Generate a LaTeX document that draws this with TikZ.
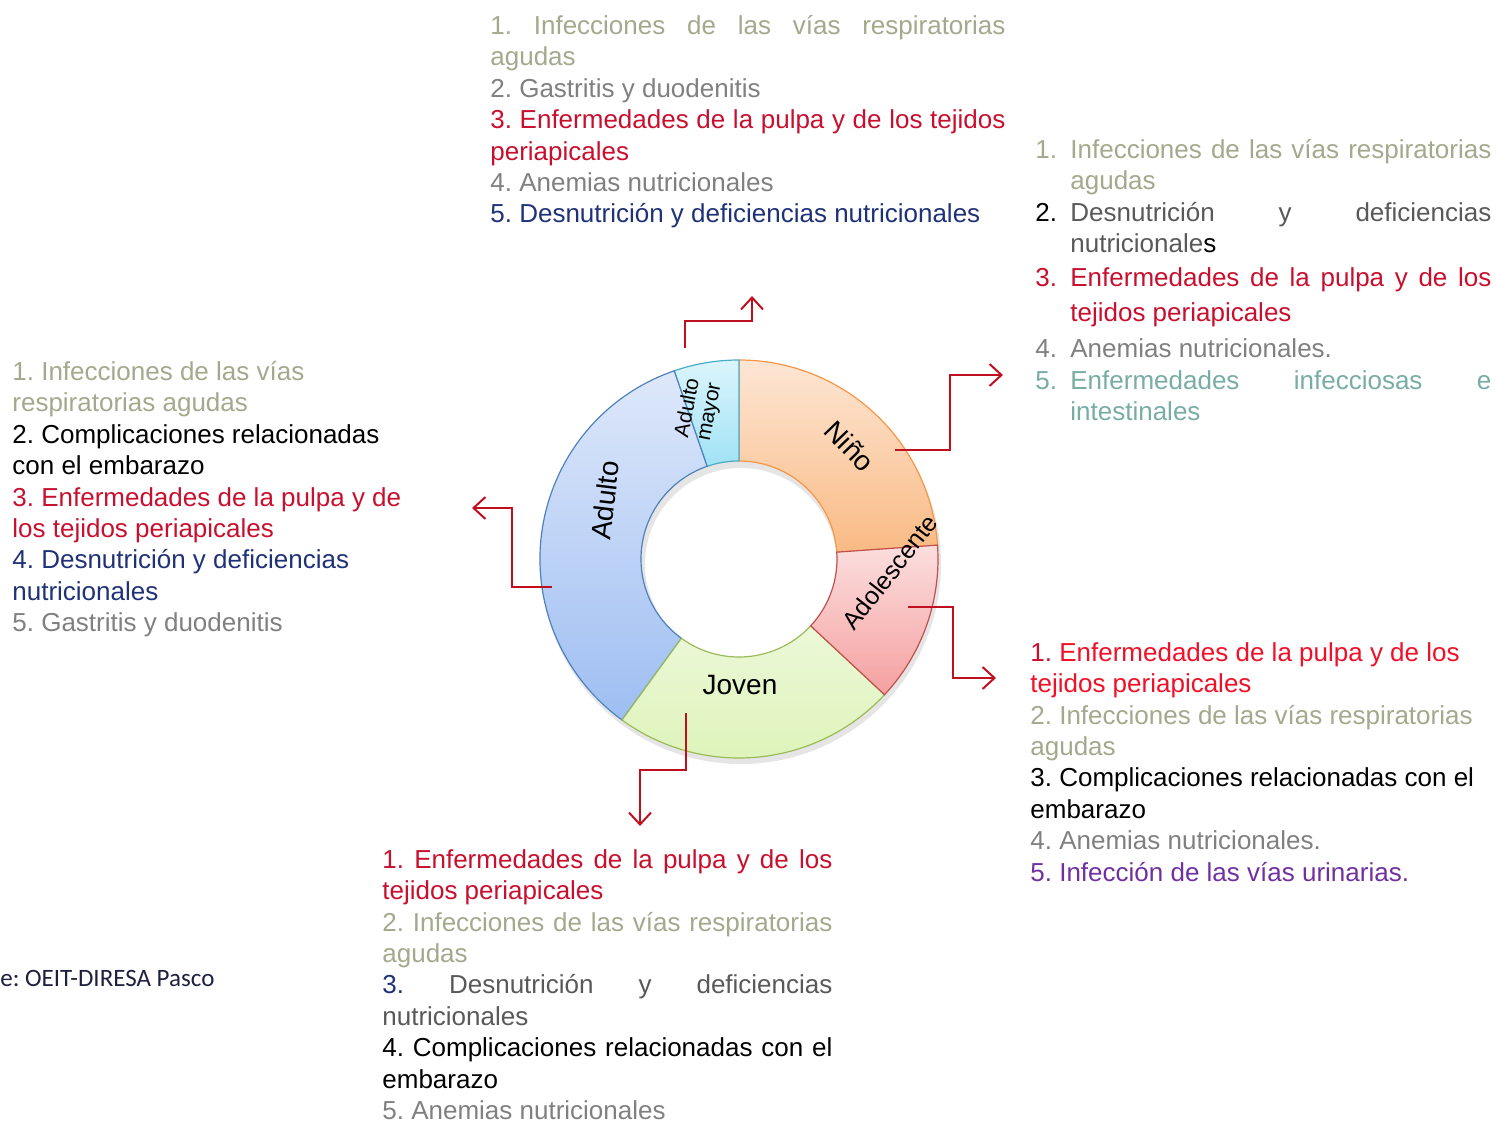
\documentclass[tikz,border=0pt]{standalone}
\usepackage{fontspec}
\setmainfont{Liberation Sans}
\newfontfamily\srcfont{Carlito}
\usetikzlibrary{arrows.meta, calc, positioning}
\frenchspacing

\definecolor{flecha}{RGB}{192,16,32}
\definecolor{infverde}{RGB}{163,169,140}
\definecolor{gris}{RGB}{128,128,128}
\definecolor{grisosc}{RGB}{89,89,89}
\definecolor{pulpa}{RGB}{200,16,46}
\definecolor{rojovivo}{RGB}{240,16,40}
\definecolor{marino}{RGB}{31,50,120}
\definecolor{verdeazul}{RGB}{120,172,165}
\definecolor{morado}{RGB}{112,48,160}

\newcommand{\estira}[2]{\makebox[#1][s]{#2}}
\newcommand{\num}[1]{\makebox[17.5pt][l]{#1}}
\newcommand{\sang}{\hspace*{17.5pt}}

\tikzset{
  lista/.style={anchor=north west, inner sep=0pt, align=left, font=\fontsize{13}{15.7}\selectfont},
  conector/.style={draw=flecha, line width=1pt, -{Straight Barb[length=6pt,width=11pt]}},
  etiqueta/.style={inner sep=0pt, font=\fontsize{14}{16}\selectfont},
  nino/.style={draw={rgb,255:red,247;green,150;blue,70}, line width=0.6pt,
    top color={rgb,255:red,253;green,230;blue,212}, bottom color={rgb,255:red,249;green,186;blue,132}},
  amayor/.style={draw={rgb,255:red,75;green,172;blue,198}, line width=0.6pt,
    top color={rgb,255:red,220;green,245;blue,252}, bottom color={rgb,255:red,160;green,226;blue,245}},
  adulto/.style={draw={rgb,255:red,79;green,129;blue,189}, line width=0.6pt,
    top color={rgb,255:red,222;green,232;blue,250}, bottom color={rgb,255:red,158;green,190;blue,242}},
  joven/.style={draw={rgb,255:red,155;green,187;blue,89}, line width=0.6pt,
    top color={rgb,255:red,236;green,248;blue,216}, bottom color={rgb,255:red,220;green,243;blue,182}},
  adol/.style={draw={rgb,255:red,192;green,80;blue,77}, line width=0.6pt,
    top color={rgb,255:red,252;green,222;blue,222}, bottom color={rgb,255:red,245;green,160;blue,160}}
}

\begin{document}
\begin{tikzpicture}[x=0.5pt, y=0.5pt]
\useasboundingbox (0,0) rectangle (1496,-1123);
\coordinate (centro) at (739,-559);

% anillo
\fill[black!10, even odd rule] ($(centro)+(2,-5)$) circle[radius=200] ($(centro)+(2,-5)$) circle[radius=96];
\path[nino] ($(centro)+(4:199)$) arc[start angle=4, end angle=90, radius=199]
  -- ($(centro)+(90:98)$) arc[start angle=90, end angle=4, radius=98] -- cycle;
\path[amayor] ($(centro)+(90:199)$) arc[start angle=90, end angle=109, radius=199]
  -- ($(centro)+(109:98)$) arc[start angle=109, end angle=90, radius=98] -- cycle;
\path[adulto] ($(centro)+(109:199)$) arc[start angle=109, end angle=234, radius=199]
  -- ($(centro)+(234:98)$) arc[start angle=234, end angle=109, radius=98] -- cycle;
\path[joven] ($(centro)+(234:199)$) arc[start angle=234, end angle=317, radius=199]
  -- ($(centro)+(317:98)$) arc[start angle=317, end angle=234, radius=98] -- cycle;
\path[adol] ($(centro)+(317:199)$) arc[start angle=317, end angle=364, radius=199]
  -- ($(centro)+(364:98)$) arc[start angle=364, end angle=317, radius=98] -- cycle;

\node[etiqueta, rotate=-46] (lblnino) at (850,-446) {Niño};
\node[etiqueta, rotate=83] (lbladulto) at (605,-500) {Adulto};
\node[etiqueta] (lbljoven) at (740,-685) {Joven};
\node[etiqueta, rotate=52, font=\fontsize{12.5}{14}\selectfont] (lbladol) at (890,-572) {Adolescente};
\node[etiqueta, rotate=79, align=center, font=\fontsize{10.5}{11}\selectfont] (lblamayor) at (699,-410) {Adulto\\mayor};

% listas
\node[lista] (top) at (490,-15) {%
  \textcolor{infverde}{\estira{257.5pt}{1. Infecciones de las vías respiratorias}}\\
  \textcolor{infverde}{agudas}\\
  \textcolor{gris}{2. Gastritis y duodenitis}\\
  \textcolor{pulpa}{\estira{257.5pt}{3. Enfermedades de la pulpa y de los tejidos}}\\
  \textcolor{pulpa}{periapicales}\\
  \textcolor{gris}{4. Anemias nutricionales}\\
  \textcolor{marino}{5. Desnutrición y deficiencias nutricionales}};

\node[lista] (der) at (1035,-139) {%
  \textcolor{infverde}{\num{1.}\estira{210.5pt}{Infecciones de las vías respiratorias}}\\
  \textcolor{infverde}{\sang agudas}\\
  \num{2.}\textcolor{grisosc}{\estira{210.5pt}{Desnutrición y deficiencias}}\\
  \sang\textcolor{grisosc}{nutricionale}s\\[1.3pt]
  \textcolor{pulpa}{\num{3.}\estira{210.5pt}{Enfermedades de la pulpa y de los}}\\[1.8pt]
  \textcolor{pulpa}{\sang tejidos periapicales}\\[2.3pt]
  \textcolor{gris}{\num{4.}Anemias nutricionales.}\\
  \textcolor{verdeazul}{\num{5.}\estira{210.5pt}{Enfermedades infecciosas e}}\\
  \textcolor{verdeazul}{\sang intestinales}};

\node[lista] (izq) at (12,-361) {%
  \textcolor{infverde}{1. Infecciones de las vías}\\
  \textcolor{infverde}{respiratorias agudas}\\
  2. Complicaciones relacionadas\\
  con el embarazo\\
  \textcolor{pulpa}{3. Enfermedades de la pulpa y de}\\
  \textcolor{pulpa}{los tejidos periapicales}\\
  \textcolor{marino}{4. Desnutrición y deficiencias}\\
  \textcolor{marino}{nutricionales}\\
  \textcolor{gris}{5. Gastritis y duodenitis}};

\node[lista] (abder) at (1030,-642) {%
  \textcolor{pulpa}{1.} \textcolor{rojovivo}{Enfermedades de la pulpa y de los}\\
  \textcolor{rojovivo}{tejidos periapicales}\\
  \textcolor{infverde}{2. Infecciones de las vías respiratorias}\\
  \textcolor{infverde}{agudas}\\
  3. Complicaciones relacionadas con el\\
  embarazo\\
  \textcolor{gris}{4. Anemias nutricionales.}\\
  \textcolor{morado}{5. Infección de las vías urinarias.}};

\node[lista] (abajo) at (382,-849) {%
  \textcolor{pulpa}{\estira{225pt}{1. Enfermedades de la pulpa y de los}}\\
  \textcolor{pulpa}{tejidos periapicales}\\
  \textcolor{infverde}{\estira{225pt}{2. Infecciones de las vías respiratorias}}\\
  \textcolor{infverde}{agudas}\\
  \estira{225pt}{\textcolor{marino}{3.} \textcolor{grisosc}{Desnutrición} \textcolor{grisosc}{y} \textcolor{grisosc}{deficiencias}}\\
  \textcolor{grisosc}{nutricionales}\\
  \estira{225pt}{4. Complicaciones relacionadas con el}\\
  embarazo\\
  \textcolor{gris}{5. Anemias nutricionales}};

\node[anchor=west, inner sep=0pt, text={rgb,255:red,31;green,32;blue,64}, font=\srcfont\fontsize{12.5}{15}\selectfont] (fuente) at (0,-978) {e: OEIT-DIRESA Pasco};

% conectores
\coordinate (amayor-out) at (685,-348);
\coordinate (amayor-fin) at (752,-296);
\coordinate (nino-out) at (895,-450);
\coordinate (nino-fin) at (1003,-375);
\coordinate (adulto-out) at (552,-587);
\coordinate (adulto-fin) at (472,-508);
\coordinate (adol-out) at (908,-607);
\coordinate (adol-fin) at (996,-678);
\coordinate (joven-out) at (686,-713);
\coordinate (joven-fin) at (640,-826);
\draw[conector] (amayor-out) -- ++(0,27) -| (amayor-fin);
\draw[conector] (nino-out) -- ++(55,0) |- (nino-fin);
\draw[conector] (adulto-out) -- ++(-40,0) |- (adulto-fin);
\draw[conector] (adol-out) -- ++(45,0) |- (adol-fin);
\draw[conector] (joven-out) -- ++(0,-57) -| (joven-fin);
\end{tikzpicture}
\end{document}
